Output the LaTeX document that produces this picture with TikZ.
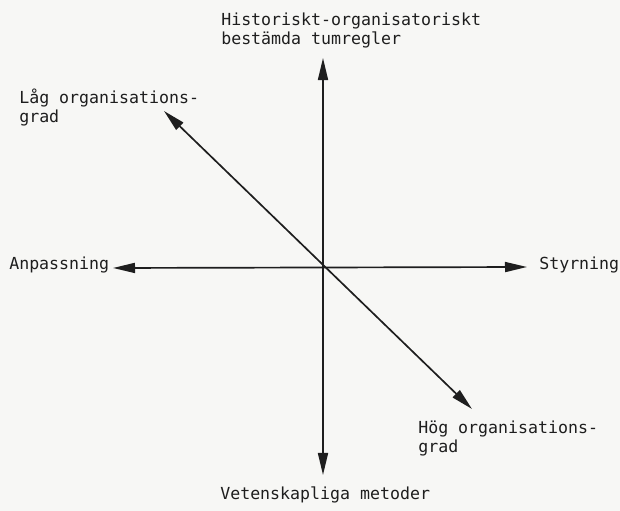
\documentclass[tikz,border=0pt]{standalone}
\usepackage{fontspec}
\setmonofont{DejaVu Sans Mono}
\usetikzlibrary{arrows.meta}
\definecolor{paper}{HTML}{F7F7F5}
\definecolor{ink}{HTML}{1E1E1E}

\begin{document}
\begin{tikzpicture}[
  x=0.025cm, y=-0.025cm,
  lbl/.style={anchor=base west, inner sep=0pt, align=left, text=ink,
              font=\ttfamily\fontsize{11.8}{14}\selectfont},
  arr/.style={{Triangle[length=5.5mm, width=2.5mm]}-{Triangle[length=5.5mm, width=2.5mm]},
              line width=1.2pt, draw=ink}
]
\fill[paper] (0,0) rectangle (620,511);
\useasboundingbox (0,0) rectangle (620,511);

% axes end points
\coordinate (O)  at (323,267);
\coordinate (T)  at (323,58);
\coordinate (B)  at (323,475);
\coordinate (L)  at (113,268);
\coordinate (R)  at (527,267);
\coordinate (UL) at (164,111);
\coordinate (LR) at (472,409);

\draw[arr] (B) -- (T);
\draw[arr] (L) -- (R);
\draw[arr] (LR) -- (UL);

% labels (base = last line)
\node[lbl] (hist) at (221,45)  {Historiskt-organisatoriskt\\bestämda tumregler};
\node[lbl] (lag)  at (19,123)  {Låg organisations-\\grad};
\node[lbl] (anp)  at (9,270)   {Anpassning};
\node[lbl] (sty)  at (539,270) {Styrning};
\node[lbl] (hog)  at (418,453) {Hög organisations-\\grad};
\node[lbl] (vet)  at (220,500) {Vetenskapliga metoder};
\end{tikzpicture}
\end{document}
